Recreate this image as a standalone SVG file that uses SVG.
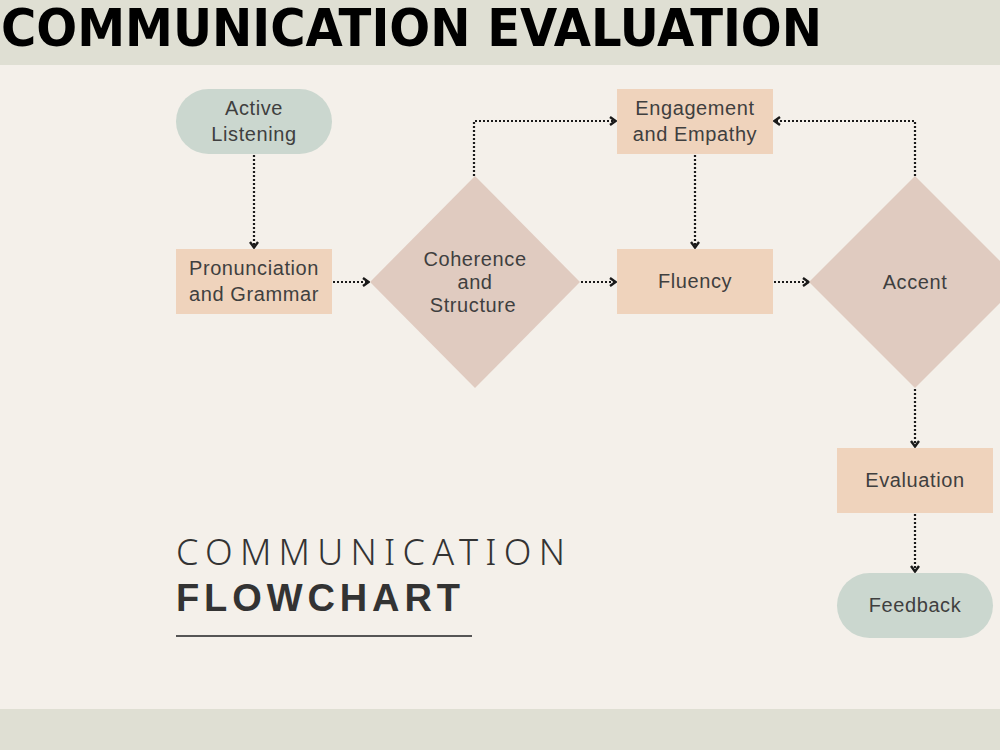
<svg xmlns="http://www.w3.org/2000/svg" width="1000" height="750" viewBox="0 0 1000 750">
<style>
.lbl{font-family:"Liberation Sans",Arial,sans-serif;font-size:20px;letter-spacing:0.6px;fill:#3f3f3f;text-anchor:middle;dominant-baseline:central}
.rect{fill:#efd3bc}
.pill{fill:#cbd7cf}
.dia{fill:#e0cbc0}
.conn{fill:none;stroke:#1a1a1a;stroke-width:2.2;stroke-dasharray:2 2}
</style>
<defs>
<marker id="arr" viewBox="0 0 9 12" refX="8" refY="6" markerWidth="9" markerHeight="12" markerUnits="userSpaceOnUse" orient="auto">
<path d="M2,2 L7.5,6 L2,10" fill="none" stroke="#1a1a1a" stroke-width="2.4"/>
</marker>
</defs>
<rect x="0" y="0" width="1000" height="750" fill="#f4f0ea"/>
<rect x="0" y="0" width="1000" height="65" fill="#dfdfd3"/>
<rect x="0" y="709" width="1000" height="41" fill="#dfdfd3"/>
<text x="1" y="46" font-family="DejaVu Sans Condensed,Liberation Sans,Arial,sans-serif" font-stretch="condensed" font-weight="bold" font-size="52" fill="#000" textLength="821" lengthAdjust="spacingAndGlyphs">COMMUNICATION EVALUATION</text>

<g id="connectors">
<path class="conn" d="M254,155 V248" marker-end="url(#arr)"/>
<path class="conn" d="M333,282 H369" marker-end="url(#arr)"/>
<path class="conn" d="M474,176 V121 H616" marker-end="url(#arr)"/>
<path class="conn" d="M695,155 V248" marker-end="url(#arr)"/>
<path class="conn" d="M581,282 H616" marker-end="url(#arr)"/>
<path class="conn" d="M774,282 H809" marker-end="url(#arr)"/>
<path class="conn" d="M915,176 V121 H774" marker-end="url(#arr)"/>
<path class="conn" d="M915,389 V447" marker-end="url(#arr)"/>
<path class="conn" d="M915,514 V572" marker-end="url(#arr)"/>
</g>

<g id="active-listening">
<rect class="pill" x="176" y="89" width="156" height="65" rx="32.5"/>
<text class="lbl"><tspan x="254" y="108">Active</tspan><tspan x="254" y="134">Listening</tspan></text>
</g>
<g id="pronunciation">
<rect class="rect" x="176" y="249" width="156" height="65"/>
<text class="lbl"><tspan x="254" y="268">Pronunciation</tspan><tspan x="254" y="294">and Grammar</tspan></text>
</g>
<g id="coherence">
<polygon class="dia" points="475,176 580,282 475,388 370,282"/>
<text class="lbl"><tspan x="475" y="259">Coherence</tspan><tspan x="475" y="282">and</tspan><tspan x="473" y="305">Structure</tspan></text>
</g>
<g id="engagement">
<rect class="rect" x="617" y="89" width="156" height="65"/>
<text class="lbl"><tspan x="695" y="108">Engagement</tspan><tspan x="695" y="134">and Empathy</tspan></text>
</g>
<g id="fluency">
<rect class="rect" x="617" y="249" width="156" height="65"/>
<text class="lbl" x="695" y="281">Fluency</text>
</g>
<g id="accent">
<polygon class="dia" points="915,176 1021,282 915,388 809,282"/>
<text class="lbl" x="915" y="282">Accent</text>
</g>
<g id="evaluation">
<rect class="rect" x="837" y="448" width="156" height="65"/>
<text class="lbl" x="915" y="480">Evaluation</text>
</g>
<g id="feedback">
<rect class="pill" x="837" y="573" width="156" height="65" rx="32.5"/>
<text class="lbl" x="915" y="605">Feedback</text>
</g>

<g id="caption">
<text x="176" y="565" font-family="Noto Sans,Open Sans,sans-serif" font-weight="300" font-size="36" fill="#333" textLength="389" lengthAdjust="spacing">COMMUNICATION</text>
<text x="176" y="611" font-family="Liberation Sans,Arial,sans-serif" font-weight="bold" font-size="38" fill="#333" textLength="284" lengthAdjust="spacing">FLOWCHART</text>
<line x1="176" y1="636" x2="472" y2="636" stroke="#555" stroke-width="2"/>
</g>
</svg>
